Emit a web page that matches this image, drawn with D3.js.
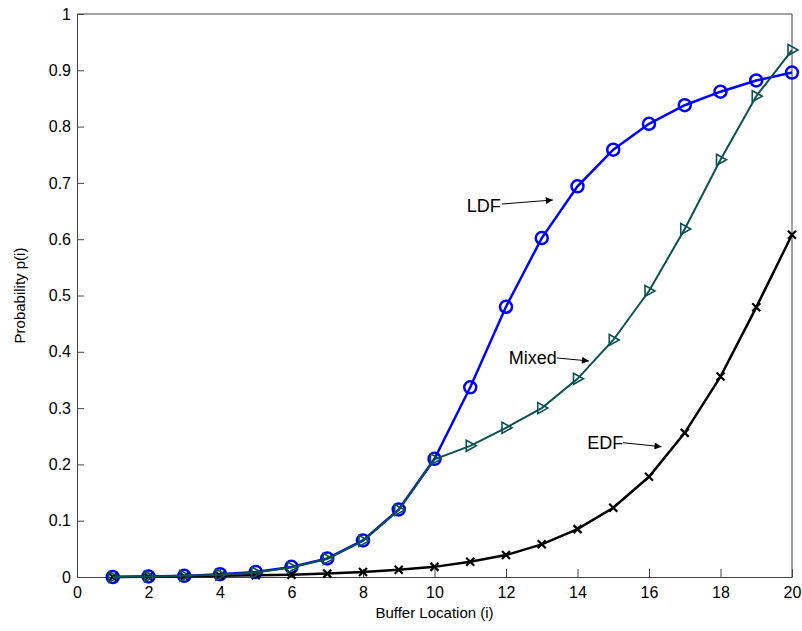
<!DOCTYPE html>
<html>
<head>
<meta charset="utf-8">
<script src="https://cdn.jsdelivr.net/npm/d3@7"></script>
<style>
    body { margin: 0; background: #fff; }
    svg { display: block; font-family: Arial, "Liberation Sans", sans-serif; }
</style>
</head>
<body>
<div id="chart"></div>
<script>
var locations = d3.range(1, 21);
var ldf   = [0, 0.001, 0.002, 0.005, 0.009, 0.018, 0.033, 0.065, 0.12, 0.21,
             0.337, 0.48, 0.602, 0.694, 0.759, 0.805, 0.838, 0.862, 0.882, 0.896];
var mixed = [0, 0.001, 0.002, 0.004, 0.008, 0.017, 0.032, 0.064, 0.119, 0.209,
             0.233, 0.265, 0.300, 0.352, 0.421, 0.508, 0.618, 0.741, 0.854, 0.936];
var edf   = [0, 0.0005, 0.001, 0.002, 0.003, 0.004, 0.006, 0.009, 0.013, 0.018,
             0.027, 0.039, 0.058, 0.085, 0.123, 0.178, 0.256, 0.356, 0.479, 0.608];
var xTicks = d3.range(0, 21, 2);
var yTicks = d3.range(0, 11).map(function(i) { return i / 10; });

// text label, arrow start, arrow tip (data units)
var notes = [
    {label: "LDF",   tx: 10.9,  ty: 0.659, x1: 11.89, y1: 0.6625, x2: 13.31, y2: 0.6696},
    {label: "Mixed", tx: 12.08, ty: 0.389, x1: 13.43, y1: 0.389,  x2: 14.32, y2: 0.3837},
    {label: "EDF",   tx: 14.27, ty: 0.238, x1: 15.27, y1: 0.2385, x2: 16.35, y2: 0.2315}
];

var W = 802, H = 631;
var m = {top: 14, right: 10, bottom: 54, left: 77};

var svg = d3.select("#chart").append("svg")
    .attr("width", W)
    .attr("height", H);

var x = d3.scaleLinear().domain([0, 20]).range([m.left, W - m.right]);
var y = d3.scaleLinear().domain([0, 1]).range([H - m.bottom, m.top]);

svg.append("defs").append("marker")
    .attr("id", "head")
    .attr("viewBox", "0 0 10 10")
    .attr("refX", 10).attr("refY", 5)
    .attr("markerWidth", 10).attr("markerHeight", 7)
    .attr("markerUnits", "userSpaceOnUse")
    .attr("orient", "auto")
    .append("path")
    .attr("d", "M0,0L10,5L0,10Z")
    .attr("fill", "#000");

//Axes (ticks point into the plot)
var xAxis = d3.axisBottom(x).tickValues(xTicks).tickSizeInner(-8).tickSizeOuter(0)
    .tickPadding(10).tickFormat(d3.format("d"));
var yAxis = d3.axisLeft(y).tickValues(yTicks).tickSizeInner(-7).tickSizeOuter(0)
    .tickPadding(6).tickFormat(function(d) { return d3.format("~g")(d); });

var gx = svg.append("g")
    .attr("transform", "translate(0," + y(0) + ")")
    .call(xAxis);
var gy = svg.append("g")
    .attr("transform", "translate(" + x(0) + ",0)")
    .call(yAxis);

[gx, gy].forEach(function(g) {
    g.select(".domain").attr("stroke", "#444");
    g.selectAll(".tick line").attr("stroke", "#444");
    g.selectAll(".tick text").attr("fill", "#000").style("font-size", "16px");
});

// box
svg.append("path")
    .attr("d", "M" + x(0) + "," + y(1) + "H" + x(20) + "V" + y(0))
    .attr("fill", "none")
    .attr("stroke", "#444");

svg.append("text")
    .attr("x", (x(0) + x(20)) / 2)
    .attr("y", 618)
    .attr("text-anchor", "middle")
    .style("font-size", "15px")
    .text("Buffer Location (i)");

svg.append("text")
    .attr("transform", "translate(25," + ((y(0) + y(1)) / 2) + ") rotate(-90)")
    .attr("text-anchor", "middle")
    .style("font-size", "15px")
    .text("Probability p(i)");

var line = d3.line()
    .x(function(d) { return x(d[0]); })
    .y(function(d) { return y(d[1]); });

function series(vals, color, width) {
    var pts = locations.map(function(l, i) { return [l, vals[i]]; });
    var g = svg.append("g");
    g.append("path")
        .datum(pts)
        .attr("d", line)
        .attr("fill", "none")
        .attr("stroke", color)
        .attr("stroke-width", width);
    return g.selectAll(".pt").data(pts).enter();
}

// LDF - circles
series(ldf, "#0000ff", 2.5).append("circle")
    .attr("cx", function(d) { return x(d[0]); })
    .attr("cy", function(d) { return y(d[1]); })
    .attr("r", 6)
    .attr("fill", "none")
    .attr("stroke", "#0000ff")
    .attr("stroke-width", 2.5);

// EDF - crosses
series(edf, "#000", 2.5).append("path")
    .attr("transform", function(d) { return "translate(" + x(d[0]) + "," + y(d[1]) + ")"; })
    .attr("d", "M-4,-4L4,4M-4,4L4,-4")
    .attr("fill", "none")
    .attr("stroke", "#000")
    .attr("stroke-width", 2.2);

// Mixed - right triangles
series(mixed, "#0d5252", 2).append("path")
    .attr("transform", function(d) { return "translate(" + x(d[0]) + "," + y(d[1]) + ")"; })
    .attr("d", "M-4,-5.5L6,0L-4,5.5Z")
    .attr("fill", "none")
    .attr("stroke", "#0d5252")
    .attr("stroke-width", 1.6);

// annotations
var note = svg.selectAll(".note").data(notes).enter().append("g");
note.append("line")
    .attr("x1", function(d) { return x(d.x1); })
    .attr("y1", function(d) { return y(d.y1); })
    .attr("x2", function(d) { return x(d.x2); })
    .attr("y2", function(d) { return y(d.y2); })
    .attr("stroke", "#000")
    .attr("stroke-width", 1)
    .attr("marker-end", "url(#head)");
note.append("text")
    .attr("x", function(d) { return x(d.tx); })
    .attr("y", function(d) { return y(d.ty); })
    .attr("dy", "0.35em")
    .style("font-size", "18px")
    .text(function(d) { return d.label; });
</script>
</body>
</html>
